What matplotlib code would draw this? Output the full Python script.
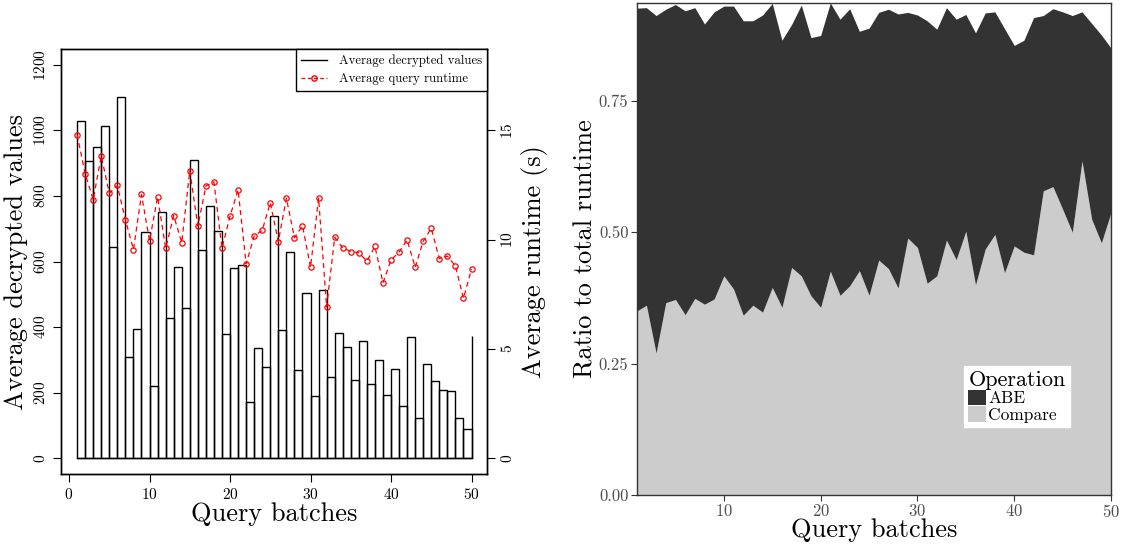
import matplotlib
matplotlib.use('Agg')
import matplotlib.pyplot as plt
from matplotlib.patches import Patch
from matplotlib.lines import Line2D

plt.rcParams['font.family'] = ['cmr10', 'DejaVu Serif']
plt.rcParams['axes.formatter.use_mathtext'] = True
plt.rcParams['mathtext.fontset'] = 'cm'

# query batches 1..50
batches = list(range(1, 51))

# left panel: average number of decrypted values per batch
decrypted = [1030, 908, 949, 1014, 645, 1102, 309, 393, 689, 221,
             751, 427, 583, 457, 911, 636, 769, 694, 380, 581,
             589, 172, 335, 279, 740, 392, 629, 269, 504, 191,
             514, 247, 382, 338, 240, 358, 228, 299, 192, 271,
             159, 369, 122, 288, 235, 207, 204, 123, 88, 373]

# left panel: average query runtime in seconds
runtime = [14.81, 13.02, 11.83, 13.83, 12.13, 12.48, 10.91, 9.55, 12.07, 9.95,
           11.96, 9.61, 11.10, 9.87, 13.16, 10.62, 12.46, 12.64, 9.61, 11.08,
           12.28, 8.89, 10.17, 10.43, 11.69, 9.91, 11.90, 10.09, 10.64, 8.74,
           11.90, 6.92, 10.11, 9.63, 9.46, 9.40, 9.02, 9.69, 8.03, 9.07,
           9.43, 9.99, 8.74, 9.93, 10.52, 9.13, 9.25, 8.80, 7.32, 8.66]

# right panel: share of total runtime per operation
compare_ratio = [0.350, 0.361, 0.270, 0.366, 0.372, 0.343, 0.374, 0.363, 0.373, 0.417,
                 0.392, 0.342, 0.361, 0.348, 0.395, 0.357, 0.433, 0.417, 0.379, 0.357,
                 0.426, 0.380, 0.398, 0.427, 0.380, 0.447, 0.431, 0.394, 0.489, 0.471,
                 0.403, 0.417, 0.485, 0.448, 0.502, 0.400, 0.468, 0.496, 0.423, 0.474,
                 0.462, 0.457, 0.579, 0.587, 0.544, 0.500, 0.636, 0.525, 0.480, 0.538]
abe_ratio = [0.577, 0.567, 0.643, 0.559, 0.562, 0.579, 0.554, 0.534, 0.547, 0.514,
             0.539, 0.561, 0.542, 0.566, 0.541, 0.509, 0.463, 0.516, 0.492, 0.518,
             0.511, 0.526, 0.528, 0.456, 0.509, 0.472, 0.494, 0.522, 0.430, 0.443,
             0.500, 0.470, 0.443, 0.458, 0.413, 0.480, 0.450, 0.424, 0.465, 0.382,
             0.404, 0.452, 0.334, 0.339, 0.376, 0.413, 0.284, 0.373, 0.396, 0.313]

fig = plt.figure(figsize=(11.21, 5.44), dpi=100)

# ---------- left panel ----------
ax = fig.add_axes([0.0547, 0.1287, 0.380, 0.781])
ax.bar(batches[:-1], decrypted[:-1], width=1, align='edge', fill=False,
       edgecolor='black', linewidth=1.0)
ax.vlines(batches[-1], 0, decrypted[-1], color='black', linewidth=1.0)
ax.plot([batches[0], batches[-1]], [0, 0], color='black', linewidth=1.0)
ax.set_xlim(-0.96, 51.96)
ax.set_ylim(-48, 1248)
ax.set_xticks(range(0, 51, 10))
ax.set_yticks(range(0, 1201, 200))
ax.tick_params(direction='out', length=6, width=0.8, labelsize=11)
for t in ax.get_yticklabels():
    t.set_rotation(90)
    t.set_va('center')
ax.set_xlabel('Query batches', fontsize=19, labelpad=0)
ax.set_ylabel('Average decrypted values', fontsize=19, labelpad=4)

ax2 = ax.twinx()
ax2.plot(batches, runtime, color='red', linestyle='--', linewidth=0.9,
         marker='o', markersize=3.8, markerfacecolor='none',
         markeredgecolor='red', markeredgewidth=0.9, dashes=(4, 3))
ax2.set_ylim(-0.72, 18.72)
ax2.set_yticks([0, 5, 10, 15])
ax2.tick_params(direction='out', length=6, width=0.8, labelsize=11)
for t in ax2.get_yticklabels():
    t.set_rotation(90)
    t.set_va('center')
ax2.set_ylabel('Average runtime (s)', fontsize=19, labelpad=4)
for sp in list(ax.spines.values()) + list(ax2.spines.values()):
    sp.set_linewidth(1.0)

handles = [Line2D([], [], color='black', linewidth=1.0),
           Line2D([], [], color='red', linestyle='--', linewidth=0.9, marker='o',
                  markersize=3.8, markerfacecolor='none', dashes=(3, 2))]
leg = ax2.legend(handles, ['Average decrypted values', 'Average query runtime'],
                 loc='upper right', bbox_to_anchor=(1.0, 1.0), borderaxespad=0,
                 fontsize=9.2, frameon=True, fancybox=False, edgecolor='black',
                 framealpha=1, handlelength=2.0, labelspacing=0.45, borderpad=0.45,
                 handletextpad=0.9)
leg.get_frame().set_linewidth(1.0)

# ---------- right panel ----------
bx = fig.add_axes([0.568, 0.0906, 0.4231, 0.904])
total = [c + a for c, a in zip(compare_ratio, abe_ratio)]
bx.fill_between(batches, 0, compare_ratio, color='#cccccc', linewidth=0)
bx.fill_between(batches, compare_ratio, total, color='#333333', linewidth=0)
bx.set_xlim(1, 50)
bx.set_ylim(0, max(total))
bx.set_xticks(range(10, 51, 10))
bx.set_yticks([0, 0.25, 0.5, 0.75])
bx.set_yticklabels(['0.00', '0.25', '0.50', '0.75'])
bx.tick_params(direction='out', length=4, width=0.8, color='#333333',
               labelcolor='#4d4d4d', labelsize=12, pad=2)
for sp in bx.spines.values():
    sp.set_color('#333333')
    sp.set_linewidth(1.0)
bx.set_xlabel('Query batches', fontsize=19, labelpad=-1)
bx.set_ylabel('Ratio to total runtime', fontsize=19, labelpad=1)

ops = ['ABE', 'Compare']
op_colors = ['#333333', '#cccccc']
leg2 = bx.legend([Patch(facecolor=c, edgecolor='none') for c in op_colors], ops,
                 title='Operation', loc='upper left', bbox_to_anchor=(0.69, 0.262),
                 borderaxespad=0, fontsize=12.5, title_fontsize=16, frameon=True,
                 fancybox=False, edgecolor='white', framealpha=1,
                 handlelength=1.0, handleheight=1.0, handletextpad=0.15,
                 labelspacing=0.0, borderpad=0.25)
leg2._legend_box.align = 'left'

fig.savefig('out.png', dpi=100)
